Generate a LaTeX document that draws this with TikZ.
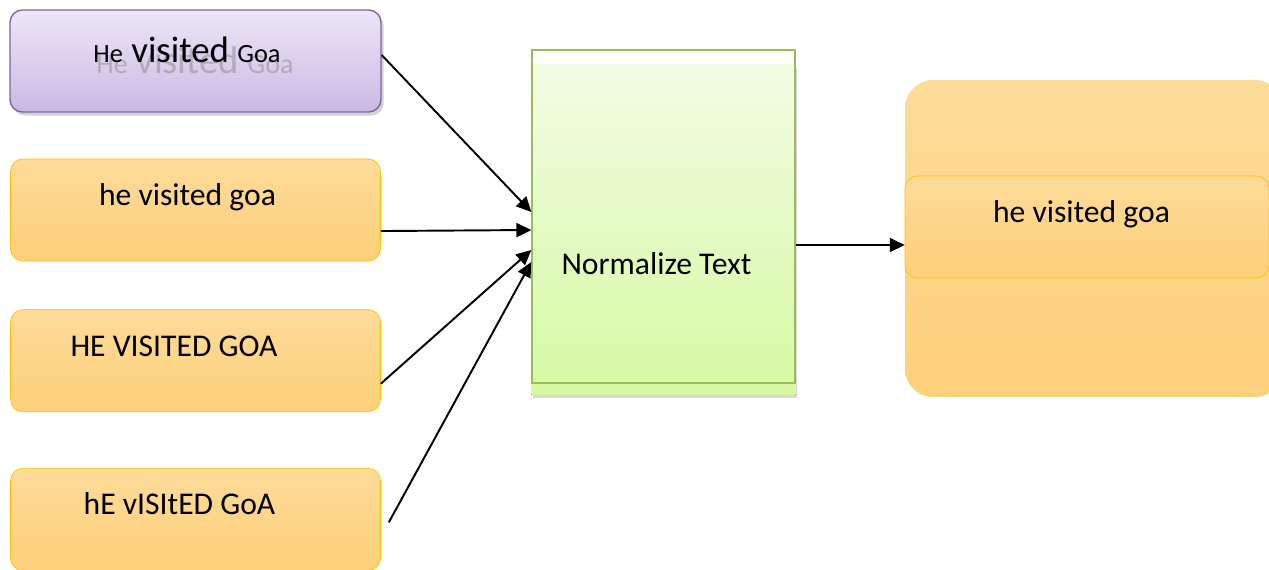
\documentclass[tikz,border=0pt]{standalone}
\usepackage{fontspec}
\setmainfont{Carlito}
\usetikzlibrary{positioning, calc, arrows.meta, backgrounds, shadows}
\definecolor{inpurple}{RGB}{128,100,162}
\definecolor{purpletop}{RGB}{237,231,247}
\definecolor{purplebot}{RGB}{202,184,227}
\definecolor{inorange}{RGB}{255,192,0}
\definecolor{orangetop}{RGB}{253,219,153}
\definecolor{orangebot}{RGB}{253,208,122}
\definecolor{normgreen}{RGB}{155,187,89}
\definecolor{greentop}{RGB}{242,252,228}
\definecolor{greenbot}{RGB}{214,249,162}

\begin{document}
\begin{tikzpicture}[
        x=0.02cm, y=-0.02cm,
        node distance=0.92cm,
        inbox/.style={rectangle, draw=inorange, top color=orangetop, bottom color=orangebot, rounded corners=7pt, minimum width=7.4cm, minimum height=2.04cm, inner sep=0pt, font=\fontsize{18}{21}\selectfont, text height=13pt, text depth=18pt},
        padright/.style={execute at end node={\hspace{#1}}},
        titlebox/.style={rectangle, draw=inpurple, thick, top color=purpletop, bottom color=purplebot, rounded corners=7pt, minimum width=7.42cm, minimum height=2.04cm, inner sep=0pt, drop shadow={shadow xshift=1.5pt, shadow yshift=-2pt, opacity=0.35}},
        titletext/.style={anchor=base, inner sep=0pt, font=\fontsize{21}{24}\selectfont},
        ghosttext/.style={anchor=base, inner sep=0pt, font=\fontsize{22}{25}\selectfont, text=gray, opacity=0.45},
        normbox/.style={rectangle, draw=normgreen, thick, minimum width=5.26cm, minimum height=6.66cm, inner sep=0pt, font=\fontsize{18}{21}\selectfont, text height=70pt, text depth=4pt},
        outbox/.style={rectangle, top color=orangetop, bottom color=orangebot, rounded corners=16pt, minimum width=7.56cm, minimum height=6.34cm, inner sep=0pt},
        link/.style={-{Triangle[length=8.5pt, width=8pt]}, line width=1.1pt},
    ]

    \useasboundingbox (0,0) rectangle (1269,569);

    % ===== Inputs =====
    \node[titlebox] (in1) at (195.5,61) {};
    \node[ghosttext] (in1shadow) at (195,73)
        {{\fontsize{16}{18}\selectfont He} visited {\fontsize{16}{18}\selectfont Goa}};
    \node[titletext] (in1text) at (187,62)
        {{\fontsize{15}{18}\selectfont He} visited {\fontsize{15}{18}\selectfont Goa}};

    \node[inbox, padright=0.32cm, below=0.92cm of in1] (in2) {he visited goa};
    \node[inbox, padright=0.86cm, below=0.96cm of in2] (in3) {HE VISITED GOA};
    \node[inbox, padright=0.64cm, below=1.12cm of in3] (in4) {hE vISItED GoA};

    % ===== Normalize =====
    \node[normbox, padright=0.28cm] (norm) at (663.5,216.5) {Normalize Text};
    \begin{scope}[on background layer]
        \fill[top color=greentop, bottom color=greenbot, drop shadow={shadow xshift=1pt, shadow yshift=-2pt, opacity=0.3}]
            ($(norm.north west)+(0,15)$) rectangle ($(norm.south east)+(0,11)$);
    \end{scope}

    % ===== Output =====
    \node[outbox] (out) at (1094,238.5) {};
    \node[inbox, padright=0.22cm, minimum width=7.28cm] (outres) at (1087,227) {he visited goa};

    % ===== Arrows =====
    \foreach \src/\sx/\sy/\ty in {in1/0/-6/-4.5, in2/0/21/13.5, in3/0/23/33.5, in4/8/3/45.5}
        \draw[link] ($(\src.east)+(\sx,\sy)$) -- ($(norm.west)+(0,\ty)$);
    \draw[link] ($(norm.east)+(0,28.5)$) -- ($(out.west)+(0,6.5)$);

\end{tikzpicture}
\end{document}
